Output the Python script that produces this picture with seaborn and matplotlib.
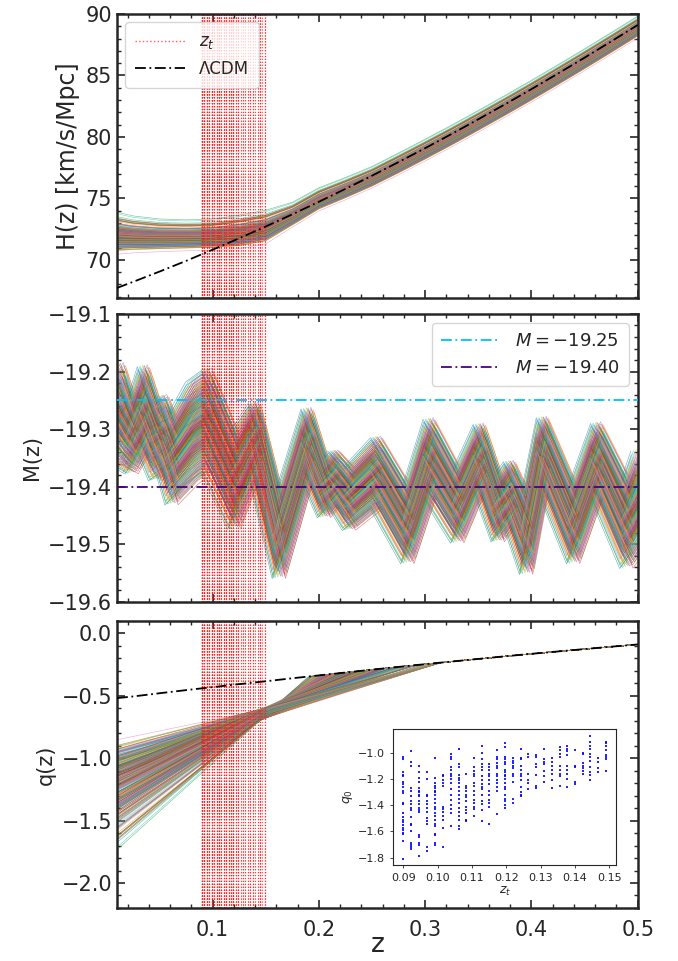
import numpy as np
import pandas as pd
import matplotlib
matplotlib.use("Agg")
import matplotlib.pyplot as plt
import seaborn as sns
from matplotlib.lines import Line2D
from matplotlib.ticker import MultipleLocator

sns.set_style("ticks")
plt.rcParams['font.family'] = ['DejaVu Sans']
plt.rcParams['mathtext.fontset'] = 'dejavusans'

# ---------------- data ----------------
# transition redshifts (columns of the inset) and q0 values of each sample
zt_columns = [0.0900, 0.0923, 0.0947, 0.0970, 0.0993, 0.1016, 0.1038, 0.1061, 0.1083,
              0.1106, 0.1129, 0.1151, 0.1174, 0.1196, 0.1218, 0.1242, 0.1264, 0.1287,
              0.1309, 0.1332, 0.1355, 0.1377, 0.1400, 0.1422, 0.1444, 0.1468, 0.1490]
q0_columns = [
    [-1.03, -1.05, -1.15, -1.17, -1.18, -1.22, -1.24, -1.26, -1.29, -1.31, -1.38, -1.39,
     -1.46, -1.49, -1.51, -1.53, -1.55, -1.57, -1.59, -1.61, -1.62, -1.67, -1.81],
    [-0.99, -1.07, -1.10, -1.27, -1.29, -1.33, -1.37, -1.39, -1.42, -1.44, -1.49, -1.54,
     -1.55, -1.60, -1.69, -1.70, -1.72, -1.73],
    [-1.10, -1.15, -1.19, -1.22, -1.27, -1.29, -1.30, -1.32, -1.33, -1.37, -1.39, -1.42,
     -1.44, -1.45, -1.63, -1.64, -1.69, -1.70, -1.79],
    [-1.15, -1.20, -1.32, -1.33, -1.37, -1.39, -1.42, -1.45, -1.50, -1.52, -1.54, -1.72, -1.75],
    [-1.04, -1.19, -1.23, -1.25, -1.27, -1.29, -1.30, -1.32, -1.35, -1.38, -1.41, -1.43,
     -1.46, -1.48, -1.51, -1.54, -1.56, -1.62, -1.63, -1.69, -1.70],
    [-1.17, -1.18, -1.21, -1.23, -1.25, -1.41, -1.43, -1.45, -1.48, -1.51, -1.57, -1.72],
    [-1.01, -1.03, -1.05, -1.11, -1.13, -1.16, -1.18, -1.20, -1.23, -1.28, -1.32, -1.36,
     -1.40, -1.43, -1.46, -1.56],
    [-0.97, -1.09, -1.11, -1.17, -1.19, -1.21, -1.23, -1.26, -1.29, -1.32, -1.35, -1.38,
     -1.42, -1.45, -1.48, -1.51, -1.56, -1.58],
    [-1.16, -1.25, -1.27, -1.29, -1.32, -1.34, -1.37, -1.41, -1.44, -1.46, -1.51, -1.52],
    [-1.04, -1.11, -1.14, -1.16, -1.18, -1.23, -1.25, -1.29, -1.32, -1.36, -1.38, -1.41,
     -1.43, -1.48],
    [-0.95, -1.00, -1.05, -1.09, -1.11, -1.13, -1.18, -1.21, -1.24, -1.26, -1.28, -1.32,
     -1.37, -1.39, -1.44, -1.52],
    [-1.09, -1.11, -1.13, -1.16, -1.18, -1.21, -1.24, -1.29, -1.32, -1.36, -1.38, -1.41, -1.54],
    [-0.98, -1.03, -1.05, -1.08, -1.10, -1.12, -1.16, -1.18, -1.21, -1.23, -1.26, -1.29, -1.47],
    [-0.93, -0.96, -1.03, -1.05, -1.07, -1.09, -1.13, -1.15, -1.17, -1.18, -1.20, -1.23,
     -1.26, -1.28, -1.32, -1.35, -1.37, -1.40, -1.42],
    [-1.04, -1.06, -1.08, -1.10, -1.12, -1.16, -1.18, -1.22, -1.35, -1.38],
    [-0.97, -1.04, -1.05, -1.10, -1.13, -1.16, -1.18, -1.21, -1.26, -1.30, -1.32, -1.33],
    [-1.01, -1.03, -1.16, -1.21, -1.23, -1.28],
    [-1.02, -1.03, -1.09, -1.11, -1.17, -1.25, -1.27],
    [-0.97, -1.05, -1.07, -1.09, -1.14, -1.18, -1.22],
    [-1.04, -1.07, -1.10, -1.13, -1.16, -1.21, -1.27],
    [-0.96, -0.98, -1.01, -1.03, -1.10, -1.13, -1.16, -1.18, -1.25],
    [-0.95, -0.97, -0.99, -1.02, -1.10, -1.13, -1.16, -1.20, -1.26],
    [-0.98, -1.10, -1.11, -1.22, -1.24],
    [-1.00, -1.01, -1.08, -1.10, -1.12, -1.14, -1.16],
    [-0.87, -0.92, -0.95, -0.97, -1.01, -1.03, -1.06, -1.11, -1.15, -1.17, -1.21],
    [-1.04, -1.07, -1.12, -1.15],
    [-0.92, -0.93, -0.95, -0.98, -1.02, -1.03, -1.05, -1.14],
]

# LCDM reference curves
z_lcdm = [0.01, 0.025, 0.05, 0.075, 0.10, 0.125, 0.15, 0.175, 0.20, 0.225, 0.25,
          0.275, 0.30, 0.325, 0.35, 0.375, 0.40, 0.425, 0.45, 0.475, 0.50]
H_lcdm = [67.72, 68.21, 69.05, 69.92, 70.83, 71.76, 72.72, 73.71, 74.73, 75.78, 76.85,
          77.96, 79.09, 80.25, 81.44, 82.65, 83.89, 85.16, 86.45, 87.77, 89.11]
q_lcdm = [-0.518, -0.505, -0.479, -0.454, -0.430, -0.406, -0.383, -0.359, -0.336, -0.313,
          -0.290, -0.268, -0.246, -0.225, -0.204, -0.183, -0.163, -0.144, -0.125, -0.106, -0.088]

# H(z) band of the reconstructed samples (lower / upper edge of the dense core)
H_lower = [70.95, 71.00, 71.05, 71.10, 71.15, 71.30, 71.70, 72.95, 74.25, 75.15, 76.10,
           77.18, 78.30, 79.45, 80.64, 81.85, 83.09, 84.36, 85.65, 86.97, 88.31]
H_upper = [73.40, 73.15, 72.95, 72.90, 72.95, 73.25, 73.65, 74.40, 75.60, 76.45, 77.35,
           78.45, 79.57, 80.72, 81.91, 83.12, 84.36, 85.63, 86.92, 88.24, 89.58]

# M(z) band of the reconstructed samples (lower / upper edge of the dense core)
z_M = [0.010, 0.013, 0.0245, 0.0356, 0.0466, 0.054, 0.062, 0.081, 0.096, 0.121, 0.140,
       0.163, 0.1896, 0.2054, 0.215, 0.229, 0.255, 0.284, 0.3045, 0.331, 0.3516, 0.369,
       0.380, 0.3957, 0.411, 0.440, 0.462, 0.490, 0.500]
M_lower = [-19.35, -19.34, -19.36, -19.32, -19.37, -19.36, -19.41, -19.37, -19.35, -19.45,
           -19.36, -19.54, -19.37, -19.44, -19.42, -19.46, -19.42, -19.515, -19.40, -19.48,
           -19.39, -19.48, -19.45, -19.533, -19.383, -19.515, -19.40, -19.52, -19.49]
M_upper = [-19.22, -19.21, -19.27, -19.21, -19.27, -19.26, -19.30, -19.24, -19.22, -19.33,
           -19.27, -19.44, -19.28, -19.37, -19.35, -19.38, -19.33, -19.42, -19.30, -19.39,
           -19.306, -19.40, -19.37, -19.435, -19.295, -19.42, -19.306, -19.41, -19.36]

M_levels = [-19.25, -19.40]
M_labels = ['$M=-19.25$', '$M=-19.40$']
M_colors = ['#00bfff', '#4b0082']

# q(z) fan: common crossing region and redshift where samples merge with LCDM
q_pivot_z = 0.145
q_pivot_q = -0.65
q_pivot_spread = 1.5     # change of crossing height with z_t
q_join_z = 0.315
M_shift_max = 0.007      # largest z-offset between M(z) samples

# ---------------- assemble samples ----------------
zt = np.array([zc for zc, qs in zip(zt_columns, q0_columns) for _ in qs])
q0 = np.array([q for qs in q0_columns for q in qs])
n = len(zt)
df_inset = pd.DataFrame({'zt': zt, 'q0': q0})

palette = sns.color_palette("tab10", 10)


def spread(u):
    d = u - 0.5
    return 0.5 + 0.8 * d + 2.4 * d ** 3


uH = (q0.max() - q0) / (q0.max() - q0.min())
f_H = spread(uH)
order = np.argsort(np.arange(n) * 0.6180339887 % 1.0)
f_M = np.empty(n)
f_M[order] = spread(np.linspace(0, 1, n))
order2 = np.argsort(np.arange(n) * 0.7548776662 % 1.0)
s_M = np.empty(n)
s_M[order2] = np.linspace(-1, 1, n)

fig = plt.figure(figsize=(6.78, 9.61), dpi=100)
axH = fig.add_axes([0.1726, 0.6899, 0.768, 0.2955])
axM = fig.add_axes([0.1726, 0.3736, 0.768, 0.2997])
axQ = fig.add_axes([0.1726, 0.0552, 0.768, 0.2986])

lw_s, al_s = 0.45, 0.6
zH = np.array(z_lcdm)
Hl, Hu = np.array(H_lower), np.array(H_upper)
zMa, Ml, Mu = np.array(z_M), np.array(M_lower), np.array(M_upper)

zg = np.linspace(0.01, 0.5, 197)
qL = np.interp(zg, z_lcdm, q_lcdm)
qL_join = np.interp(q_join_z, z_lcdm, q_lcdm)

for k in range(n):
    c = palette[k % 10]
    axH.plot(zH, Hl + f_H[k] * (Hu - Hl), color=c, lw=lw_s, alpha=al_s, zorder=1)
    axM.plot(zMa + M_shift_max * s_M[k], Ml + f_M[k] * (Mu - Ml), color=c,
             lw=lw_s, alpha=al_s, zorder=1)
    pq = q_pivot_q + q_pivot_spread * (zt[k] - 0.12)
    slope = (pq - q0[k]) / q_pivot_z
    line = q0[k] + slope * zg
    qt = q0[k] + slope * zt[k]
    chord = qt + (qL_join - qt) / (q_join_z - zt[k]) * (zg - zt[k])
    qk = np.where(zg <= zt[k], line, np.maximum(line, chord))
    qk = np.minimum(qk, qL)
    axQ.plot(zg, qk, color=c, lw=lw_s, alpha=al_s, zorder=1)

for ax in (axH, axM, axQ):
    for z in zt:
        ax.axvline(z, color='#ff2020', ls=':', lw=0.8, alpha=0.3, zorder=2)

df_l = pd.DataFrame({'z': z_lcdm, 'H': H_lcdm, 'q': q_lcdm})
sns.lineplot(data=df_l, x='z', y='H', ax=axH, color='black', lw=1.3,
             linestyle=(0, (6, 2, 1, 2)), zorder=4)
sns.lineplot(data=df_l, x='z', y='q', ax=axQ, color='black', lw=1.3,
             linestyle=(0, (6, 2, 1, 2)), zorder=4)
for lev, col in zip(M_levels, M_colors):
    axM.axhline(lev, color=col, lw=1.3, linestyle=(0, (6, 2, 1, 2)), zorder=4)

# legends
hl = [Line2D([], [], color='#ff3030', ls=':', lw=1.0, alpha=0.8),
      Line2D([], [], color='black', lw=1.3, linestyle=(0, (6, 2, 1, 2)))]
axH.legend(hl, ['$z_t$', 'ΛCDM'], loc='upper left', fontsize=12,
           handlelength=3.0, borderpad=0.6, labelspacing=0.5)
hm = [Line2D([], [], color=c, lw=1.3, linestyle=(0, (6, 2, 1, 2))) for c in M_colors]
axM.legend(hm, M_labels, loc='upper right', fontsize=13, handlelength=3.3,
           borderpad=0.5, labelspacing=0.5)

# axes styling
for ax in (axH, axM, axQ):
    ax.set_xlim(0.01, 0.5)
    ax.xaxis.set_major_locator(MultipleLocator(0.1))
    ax.xaxis.set_minor_locator(MultipleLocator(0.02))
    ax.tick_params(axis='both', which='both', direction='in', top=True, right=True)
    ax.tick_params(axis='both', which='major', length=6, width=1.2, labelsize=15)
    ax.tick_params(axis='both', which='minor', length=3, width=1.0)
    ax.tick_params(axis='x', which='major', pad=9)
    for s in ax.spines.values():
        s.set_linewidth(1.8)
    ax.set_xlabel('')

axH.set_ylim(66.9, 90)
axH.yaxis.set_major_locator(MultipleLocator(5))
axH.yaxis.set_minor_locator(MultipleLocator(1))
axH.set_ylabel('H(z) [km/s/Mpc]', fontsize=17)
axH.tick_params(axis='x', labelbottom=False)

axM.set_ylim(-19.6, -19.1)
axM.yaxis.set_major_locator(MultipleLocator(0.1))
axM.yaxis.set_minor_locator(MultipleLocator(0.02))
axM.set_ylabel('M(z)', fontsize=15)
axM.tick_params(axis='x', labelbottom=False)

axQ.set_ylim(-2.2, 0.1)
axQ.yaxis.set_major_locator(MultipleLocator(0.5))
axQ.yaxis.set_minor_locator(MultipleLocator(0.1))
axQ.set_ylabel('q(z)', fontsize=15)
axQ.set_xlabel('z', fontsize=19, labelpad=-6)
axQ.set_yticks([0.0, -0.5, -1.0, -1.5, -2.0])
axQ.set_yticklabels(['0.0', '−0.5', '−1.0', '−1.5', '−2.0'])

# inset
axin = fig.add_axes([0.580, 0.0999, 0.329, 0.1415])
sns.scatterplot(data=df_inset, x='zt', y='q0', ax=axin, s=2, color='blue',
                marker='s', linewidth=0, alpha=0.85)
axin.set_xlim(0.0871, 0.152)
axin.set_ylim(-1.855, -0.82)
axin.set_xticks([0.09, 0.10, 0.11, 0.12, 0.13, 0.14, 0.15])
axin.set_yticks([-1.8, -1.6, -1.4, -1.2, -1.0])
axin.tick_params(labelsize=8, length=2.5, width=0.6, direction='out')
axin.set_xlabel('$z_t$', fontsize=9, labelpad=1)
axin.set_ylabel('$q_0$', fontsize=9, labelpad=2)
for s in axin.spines.values():
    s.set_linewidth(0.8)

fig.savefig('out.png', dpi=100)
